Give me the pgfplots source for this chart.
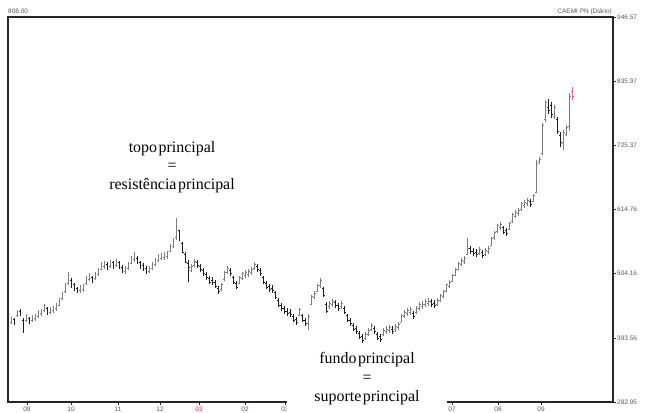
\documentclass[border=0pt]{standalone}
\usepackage{fontspec}
\setmainfont{Liberation Serif}
\newfontfamily\arialf{Liberation Sans}
\usepackage{pgfplots}
\pgfplotsset{compat=1.18}
\usepackage{pgfplotstable}

\definecolor{upc}{RGB}{125,125,125}
\definecolor{dnc}{RGB}{30,30,30}
\definecolor{lastc}{RGB}{240,90,140}
\definecolor{lblc}{RGB}{80,86,100}

% open / close ticks of the daily bars
\pgfdeclareplotmark{ohlcopen}{\pgfpathmoveto{\pgfqpoint{-1.5pt}{0pt}}\pgfpathlineto{\pgfqpoint{0pt}{0pt}}\pgfusepathqstroke}
\pgfdeclareplotmark{ohlcclose}{\pgfpathmoveto{\pgfqpoint{0pt}{0pt}}\pgfpathlineto{\pgfqpoint{1.5pt}{0pt}}\pgfusepathqstroke}

\pgfplotstableread{
x   hi  lo  op  cl
11  430 418 421 427
14  428 416 425 420
17  442 430 432 440
20  444 432 440 436
23  428 402 424 418
26  434 421 423 431
29  430 418 428 422
32  433 421 424 430
35  435 423 427 432
38  441 428 431 438
41  444 432 436 441
44  452 438 441 448
47  446 433 444 437
50  447 435 438 444
53  449 437 441 446
56  453 440 444 450
59  462 448 450 460
62  472 458 461 470
65  488 470 473 485
68  507 484 488 497
71  496 480 493 484
74  488 474 485 478
77  482 470 479 474
80  484 471 475 480
83  486 473 477 482
86  500 485 487 498
89  505 491 495 501
92  501 488 498 492
95  507 493 496 504
98  514 500 503 511
101 524 510 512 521
104 526 512 517 522
107 524 510 521 514
110 527 514 517 524
113 526 512 523 516
116 529 516 519 526
119 526 512 523 516
122 519 505 515 509
125 517 504 508 513
128 524 510 513 521
131 535 520 522 533
134 542 524 528 535
137 534 521 531 524
140 526 512 523 515
143 522 509 518 513
146 517 504 513 508
149 518 506 509 515
152 524 511 514 521
155 531 517 520 528
158 538 524 527 535
161 539 527 530 535
164 541 528 532 537
167 543 530 534 539
170 556 541 542 554
173 566 549 551 563
176 600 563 566 585
179 580 560 578 562
182 558 539 556 541
185 541 522 538 524
188 528 490 522 515
191 521 507 510 517
194 529 516 519 526
197 527 514 523 518
200 520 507 517 511
203 514 500 510 504
206 507 493 503 497
209 500 486 496 490
212 498 485 493 489
215 493 480 489 483
218 483 469 479 473
221 488 475 477 485
224 508 492 494 506
227 517 503 506 514
230 514 500 510 504
233 500 486 497 489
236 491 478 488 481
239 500 486 488 497
242 507 493 496 504
245 510 497 501 506
248 512 499 503 508
251 515 502 506 511
254 524 510 513 521
257 521 507 517 511
260 514 500 510 504
263 501 486 497 489
266 491 478 488 481
269 486 473 482 477
272 484 471 479 476
275 475 460 472 463
278 462 446 458 449
281 453 440 449 444
284 448 435 444 439
287 445 432 440 436
290 443 430 438 434
293 435 421 431 424
296 429 416 425 420
299 445 431 433 443
302 435 421 432 424
305 427 414 423 418
308 434 407 418 431
311 467 450 452 465
314 474 460 463 471
317 487 472 474 484
320 497 480 484 492
323 482 464 479 467
326 456 436 452 440
329 457 443 447 453
332 460 447 451 456
335 458 445 454 449
338 453 440 449 444
341 457 443 447 453
344 448 435 445 438
347 435 420 432 423
350 427 414 423 418
353 419 405 415 409
356 414 400 410 404
359 405 391 402 395
362 400 381 396 389
365 403 390 393 400
368 410 397 400 407
371 419 405 409 415
374 414 400 410 404
377 403 390 400 393
380 400 386 396 391
383 410 397 399 407
386 414 400 405 409
389 415 402 406 411
392 414 400 409 405
395 417 404 408 413
398 421 407 411 417
401 435 420 421 433
404 441 428 431 438
407 445 431 436 441
410 446 433 437 442
413 440 426 436 430
416 448 435 437 445
419 455 441 445 451
422 457 443 448 452
425 460 447 451 456
428 462 449 453 457
431 460 447 456 451
434 458 445 453 450
437 462 449 452 458
440 469 455 458 466
443 476 462 465 473
446 487 472 474 485
449 493 479 482 490
452 504 489 491 502
455 514 500 502 512
458 525 510 512 522
461 531 517 521 527
464 535 521 525 530
467 566 536 538 548
470 552 538 547 542
473 548 535 543 539
476 546 533 541 538
479 550 537 540 546
482 545 532 541 536
485 548 535 538 544
488 552 538 542 548
491 567 551 552 565
494 578 563 566 575
497 590 575 577 588
500 593 579 584 589
503 586 572 584 575
506 583 569 578 573
509 593 579 580 591
512 608 592 594 606
515 614 600 603 610
518 617 603 608 613
521 628 613 615 626
524 631 617 622 627
527 634 621 625 630
530 633 619 628 624
533 642 627 628 640
536 700 643 645 695
539 705 694 697 702
542 764 709 712 760
545 804 765 770 800
548 805 780 790 785
551 800 772 795 778
554 795 770 776 790
557 775 745 770 750
560 748 722 742 730
563 752 717 728 748
566 760 742 745 756
569 816 750 758 810
}\caemi

\pgfplotstableread{
x   hi  lo  op  cl
572 826 804 818 810
}\caemilast

\begin{document}
\begin{tikzpicture}[x=1bp,y=1bp]
\begin{axis}[
  at={(8bp,10bp)}, anchor=south west,
  scale only axis, width=605bp, height=385bp,
  xmin=8, xmax=613, ymin=282.95, ymax=946.57,
  axis line style={line width=1.1bp, black!85},
  xtick pos=bottom, ytick pos=right, yticklabel pos=right,
  tick align=outside, major tick length=3bp,
  tick style={black!85, line width=0.6bp},
  xtick={27,71,118,160,199,245,285,328,370,410,452,498,541},
  xticklabels={09,10,11,12,{\color{red!85!white}03},02,03,04,05,06,07,08,09},
  ytick={282.95,393.56,504.16,614.76,725.37,835.97,946.57},
  yticklabels={282.95,393.56,504.16,614.76,725.37,835.97,946.57},
  ticklabel style={font=\arialf\fontsize{6.5}{7}\selectfont, text=lblc},
  xticklabel style={inner sep=0pt, yshift=-1.5bp},
  yticklabel style={inner sep=0pt, xshift=1bp},
]
% rising days, light bars
\addplot[draw=none, forget plot,
  restrict expr to domain={\thisrow{cl}-\thisrow{op}}{0:10000},
  error bars/.cd, y dir=plus, y explicit, error mark=none,
  error bar style={draw=upc, line width=0.9bp}]
  table[x=x, y=lo, y error expr=\thisrow{hi}-\thisrow{lo}] {\caemi};
\addplot[only marks, mark=ohlcopen, mark options={draw=upc, line width=0.7bp},
  restrict expr to domain={\thisrow{cl}-\thisrow{op}}{0:10000}]
  table[x=x, y=op] {\caemi};
\addplot[only marks, mark=ohlcclose, mark options={draw=upc, line width=0.7bp},
  restrict expr to domain={\thisrow{cl}-\thisrow{op}}{0:10000}]
  table[x=x, y=cl] {\caemi};
% falling days, dark bars
\addplot[draw=none, forget plot,
  restrict expr to domain={\thisrow{cl}-\thisrow{op}}{-10000:-0.001},
  error bars/.cd, y dir=plus, y explicit, error mark=none,
  error bar style={draw=dnc, line width=0.9bp}]
  table[x=x, y=lo, y error expr=\thisrow{hi}-\thisrow{lo}] {\caemi};
\addplot[only marks, mark=ohlcopen, mark options={draw=dnc, line width=0.7bp},
  restrict expr to domain={\thisrow{cl}-\thisrow{op}}{-10000:-0.001}]
  table[x=x, y=op] {\caemi};
\addplot[only marks, mark=ohlcclose, mark options={draw=dnc, line width=0.7bp},
  restrict expr to domain={\thisrow{cl}-\thisrow{op}}{-10000:-0.001}]
  table[x=x, y=cl] {\caemi};
% last session
\addplot[draw=none, forget plot,
  error bars/.cd, y dir=plus, y explicit, error mark=none,
  error bar style={draw=lastc, line width=0.9bp}]
  table[x=x, y=lo, y error expr=\thisrow{hi}-\thisrow{lo}] {\caemilast};
\addplot[only marks, mark=ohlcopen, mark options={draw=lastc, line width=0.7bp}]
  table[x=x, y=op] {\caemilast};
\addplot[only marks, mark=ohlcclose, mark options={draw=lastc, line width=0.7bp}]
  table[x=x, y=cl] {\caemilast};
\end{axis}

\node[anchor=base west, inner sep=0pt, text=lblc, font=\arialf\fontsize{6.5}{7}\selectfont] at (8,398) {808.00};
\node[anchor=base east, inner sep=0pt, text=lblc, font=\arialf\fontsize{6.5}{7}\selectfont] at (612,398) {CAEMI PN (Diário)};

\node[align=center, font=\fontsize{16}{18.5}\selectfont, inner sep=0pt] at (172,245)
  {topo\hspace{1.5bp}principal\\=\\resistência\hspace{1.5bp}principal};
\node[fill=white, minimum width=160bp, minimum height=72bp, align=center,
  font=\fontsize{16}{19}\selectfont, inner sep=0pt] at (367,33)
  {fundo\hspace{1.5bp}principal\\=\\suporte\hspace{1.5bp}principal};

\pgfresetboundingbox
\path (0,0) rectangle (660,412);
\end{tikzpicture}
\end{document}
